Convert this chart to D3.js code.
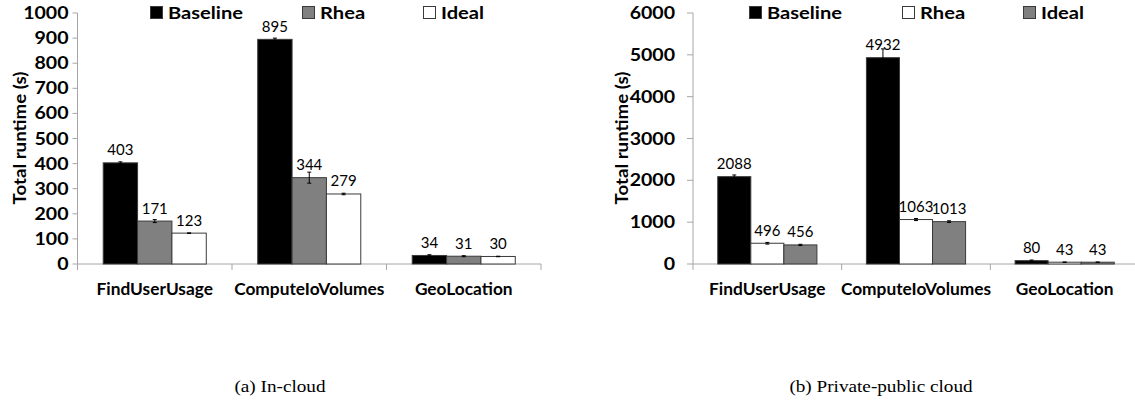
<!DOCTYPE html>
<html><head><meta charset="utf-8">
<script src="https://cdn.jsdelivr.net/npm/d3@7"></script>
<style>body{margin:0;background:#fff}svg{display:block}</style>
</head><body>
<script>
// ---- data ----
const categories = ["FindUserUsage", "ComputeIoVolumes", "GeoLocation"];
const leftSeries = ["Baseline", "Rhea", "Ideal"];
const leftBaseline = [403, 895, 34];
const leftRhea = [171, 344, 31];
const leftIdeal = [123, 279, 30];
const leftBaselineErr = [4, 5, 3];
const leftRheaErr = [6, 22, 2];
const leftIdealErr = [1, 3, 1];
const leftTicks = [0, 100, 200, 300, 400, 500, 600, 700, 800, 900, 1000];

const rightSeries = ["Baseline", "Rhea", "Ideal"];
const rightBaseline = [2088, 4932, 80];
const rightRhea = [496, 1063, 43];
const rightIdeal = [456, 1013, 43];
const rightBaselineErr = [40, 210, 15];
const rightRheaErr = [20, 25, 5];
const rightIdealErr = [15, 20, 5];
const rightTicks = [0, 1000, 2000, 3000, 4000, 5000, 6000];

const yTitle = "Total runtime (s)";
const subtitles = ["(a)  In-cloud", "(b)  Private-public cloud"];

// ---- drawing ----
const W = 1135, H = 403;
const svg = d3.select("body").append("svg").attr("width", W).attr("height", H);
const FONT = "Lato, 'Open Sans', sans-serif";
const AXIS = "#a6a6a6";

function stext(g, x, y, sx, txt, opts) {
  const t = g.append("text")
    .attr("transform", `translate(${x},${y})${opts.rot ? " rotate(-90)" : ""} scale(${sx},1)`)
    .attr("font-family", opts.family || FONT)
    .attr("font-size", opts.size)
    .attr("font-weight", opts.weight || "normal")
    .attr("text-anchor", opts.anchor || "start")
    .attr("fill", "#000")
    .text(txt);
  return t;
}

function panel(cfg) {
  const g = svg.append("g");
  const y = d3.scaleLinear().domain(cfg.domain).range([264, 13]);
  const x = d3.scaleBand().domain(categories).range([cfg.x0, cfg.x1]).padding(0);
  const inner = d3.scaleBand().domain(cfg.series).range([0, x.bandwidth() * 0.667]);
  const offs = (x.bandwidth() - x.bandwidth() * 0.667) / 2;

  // y axis
  g.append("line").attr("x1", cfg.x0).attr("x2", cfg.x0).attr("y1", y(cfg.domain[1])).attr("y2", y(0))
    .attr("stroke", AXIS).attr("stroke-width", 1);
  cfg.ticks.forEach(t => {
    g.append("line").attr("x1", cfg.x0 - cfg.tickLen).attr("x2", cfg.x0).attr("y1", y(t)).attr("y2", y(t))
      .attr("stroke", AXIS);
    stext(g, cfg.x0 - cfg.tickLen - cfg.tickPad, y(t) + 6, 1.15, t, {size: 17, weight: "bold", anchor: "end"});
  });
  // x axis
  g.append("line").attr("x1", cfg.x0).attr("x2", cfg.x1).attr("y1", y(0)).attr("y2", y(0))
    .attr("stroke", AXIS);
  categories.forEach((c, i) => {
    g.append("line").attr("x1", x(c)).attr("x2", x(c)).attr("y1", y(0)).attr("y2", y(0) + 6).attr("stroke", AXIS);
    if (i === categories.length - 1) {
      const xe = x(c) + x.bandwidth();
      g.append("line").attr("x1", xe).attr("x2", xe).attr("y1", y(0)).attr("y2", y(0) + 6).attr("stroke", AXIS);
    }
    stext(g, x(c) + x.bandwidth() / 2, 295, 1.05, c, {size: 16.5, weight: "bold", anchor: "middle"});
  });

  // bars
  cfg.series.forEach((s, si) => {
    const vals = cfg.values[si], errs = cfg.errs[si];
    categories.forEach((c, ci) => {
      const bx = x(c) + offs + inner(s), bw = inner.bandwidth();
      const v = vals[ci];
      g.append("rect").attr("x", bx).attr("y", y(v)).attr("width", bw).attr("height", y(0) - y(v))
        .attr("fill", cfg.colors[si]).attr("stroke", "#3a3a3a").attr("stroke-width", 1);
      const cx = bx + bw / 2;
      const e = errs[ci];
      g.append("line").attr("x1", cx).attr("x2", cx).attr("y1", y(v + e)).attr("y2", y(Math.max(0, v - e)))
        .attr("stroke", "#000").attr("stroke-width", 1);
      [v + e, v - e].forEach(ev => {
        g.append("line").attr("x1", cx - 2).attr("x2", cx + 2).attr("y1", y(ev)).attr("y2", y(ev))
          .attr("stroke", "#000").attr("stroke-width", 1);
      });
      stext(g, cx, y(v) - 7.5, 1.0, v, {size: 15, anchor: "middle"});
    });
  });

  // legend
  cfg.series.forEach((s, si) => {
    const lx = cfg.legendX[si];
    g.append("rect").attr("x", lx + 0.5).attr("y", 6.5).attr("width", 12).attr("height", 12)
      .attr("fill", cfg.colors[si]).attr("stroke", "#3a3a3a");
    stext(g, lx + 18, 19, 1.15, s, {size: 17.5, weight: "bold"});
  });

  // y title
  stext(g, cfg.titleX, 138, 1.1, yTitle, {size: 17, weight: "bold", anchor: "middle", rot: true})
    .attr("dominant-baseline", "central");

  // subtitle
  stext(g, cfg.subX, 392, 1.2, cfg.subtitle, {size: 16, anchor: "middle", family: "'Liberation Serif', 'Times New Roman', serif"});
}

panel({
  x0: 77.5, x1: 541, domain: [0, 1000], ticks: leftTicks, tickLen: 5, tickPad: 4,
  series: leftSeries, values: [leftBaseline, leftRhea, leftIdeal],
  errs: [leftBaselineErr, leftRheaErr, leftIdealErr],
  colors: ["#000000", "#808080", "#ffffff"],
  legendX: [150, 302, 423], titleX: 19, subX: 280, subtitle: subtitles[0]
});
panel({
  x0: 693, x1: 1139, domain: [0, 6000], ticks: rightTicks, tickLen: 6, tickPad: 12,
  series: rightSeries, values: [rightBaseline, rightRhea, rightIdeal],
  errs: [rightBaselineErr, rightRheaErr, rightIdealErr],
  colors: ["#000000", "#ffffff", "#808080"],
  legendX: [749, 902, 1023], titleX: 621, subX: 881, subtitle: subtitles[1]
});
</script>
</body></html>
